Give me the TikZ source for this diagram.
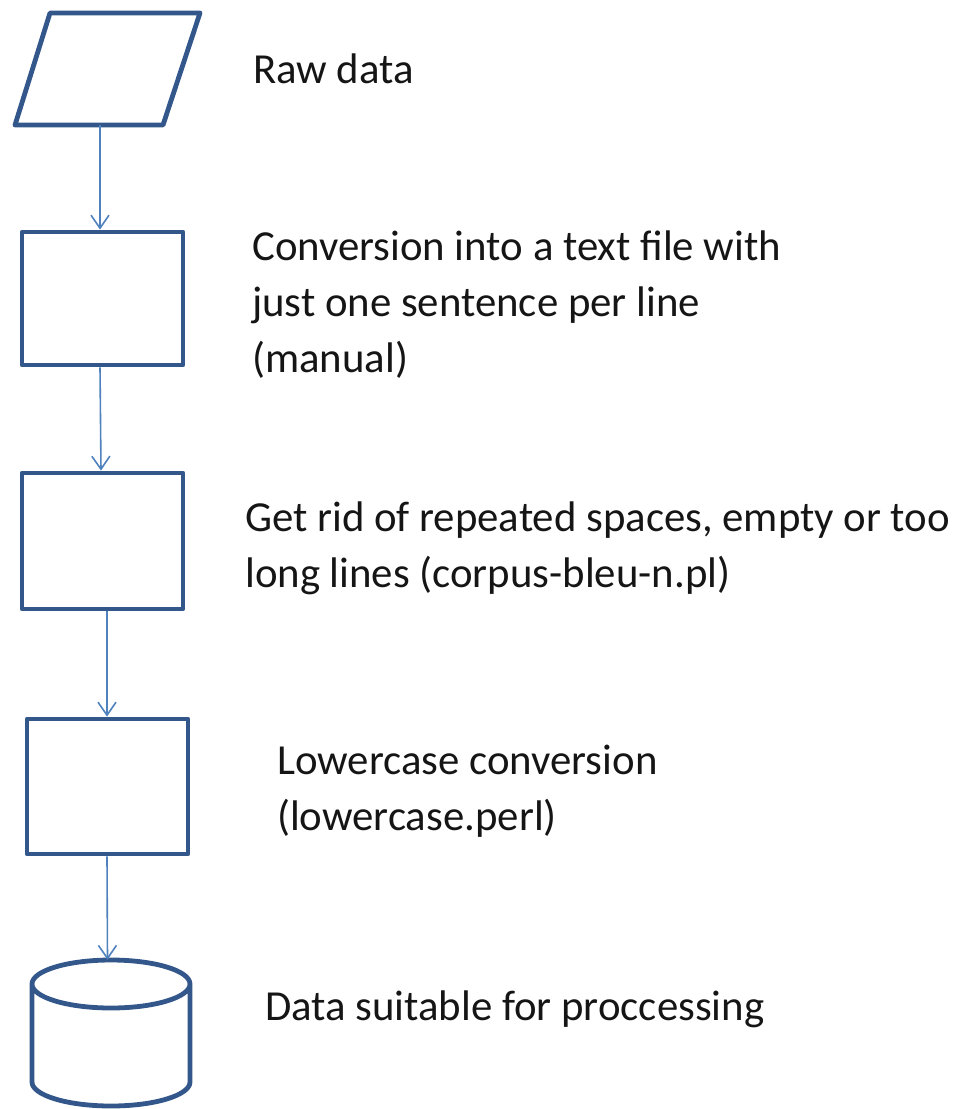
\documentclass[tikz,border=0pt]{standalone}
\usepackage{fontspec}
\setmainfont{Carlito}
\usetikzlibrary{arrows.meta}
\definecolor{boxblue}{HTML}{33578A}
\definecolor{arrblue}{HTML}{4F81BD}
\definecolor{txt}{HTML}{151515}
\tikzset{
  box/.style={draw=boxblue, line width=4.8pt, rectangle, minimum width=161pt, minimum height=#1, inner sep=0pt, line join=round},
  shapeline/.style={draw=boxblue, line width=4.8pt, line join=round},
  anchorbox/.style={inner sep=0pt, minimum width=#1},
  arr/.style={draw=arrblue, line width=1.6pt, -{Straight Barb[length=13pt,width=18pt,line width=1.6pt]}},
  lbl/.style={anchor=base west, inner sep=0pt, text=txt, align=left, font=\fontsize{42.8pt}{56pt}\selectfont},
}
\begin{document}
\begin{tikzpicture}[x=1pt,y=-1pt]
\useasboundingbox (0,0) rectangle (958,1109);
% parallelogram
\draw[shapeline] (50,13) -- (200,13) -- (163,125) -- (15,125) -- cycle;
\node[anchorbox=185pt, minimum height=112pt] (raw) at (107.5,69) {};
% boxes
\node[box=133pt] (b1) at (102.5,298.5) {};
\node[box=136pt] (b2) at (102.5,541) {};
\node[box=135pt] (b3) at (107.5,786.5) {};
% cylinder
\draw[shapeline] (32,984) arc[start angle=180, end angle=360, x radius=79, y radius=24]
  arc[start angle=0, end angle=180, x radius=79, y radius=24] -- (32,1082)
  arc[start angle=180, end angle=0, x radius=79, y radius=24] -- (190,984);
\node[anchorbox=158pt, minimum height=146pt] (db) at (111,1033) {};
% connectors
\draw[arr] ([xshift=-2.5pt]b1.north |- raw.south) coordinate (r0) -- (r0 |- b1.north);
\draw[arr] ([xshift=-2.5pt]b1.south) -- ([xshift=-1.5pt]b2.north);
\draw[arr] ([xshift=4.5pt]b2.south) -- ([xshift=-0.5pt]b3.north);
\draw[arr] ([xshift=-0.5pt]b3.south) -- (b3.south |- db.north);
% labels (anchor = baseline of last line)
\node[lbl] (t0) at (253,83) {Raw data};
\node[lbl] (t1) at (252,372) {Conversion into a text file with\\just one sentence per line\\(manual)};
\node[lbl] (t2) at (245,587) {Get rid of repeated spaces, empty or too\\long lines (corpus-bleu-n.pl)};
\node[lbl] (t3) at (277,830) {Lowercase conversion\\(lowercase.perl)};
\node[lbl] (t4) at (265,1020) {Data suitable for proccessing};
\end{tikzpicture}
\end{document}
